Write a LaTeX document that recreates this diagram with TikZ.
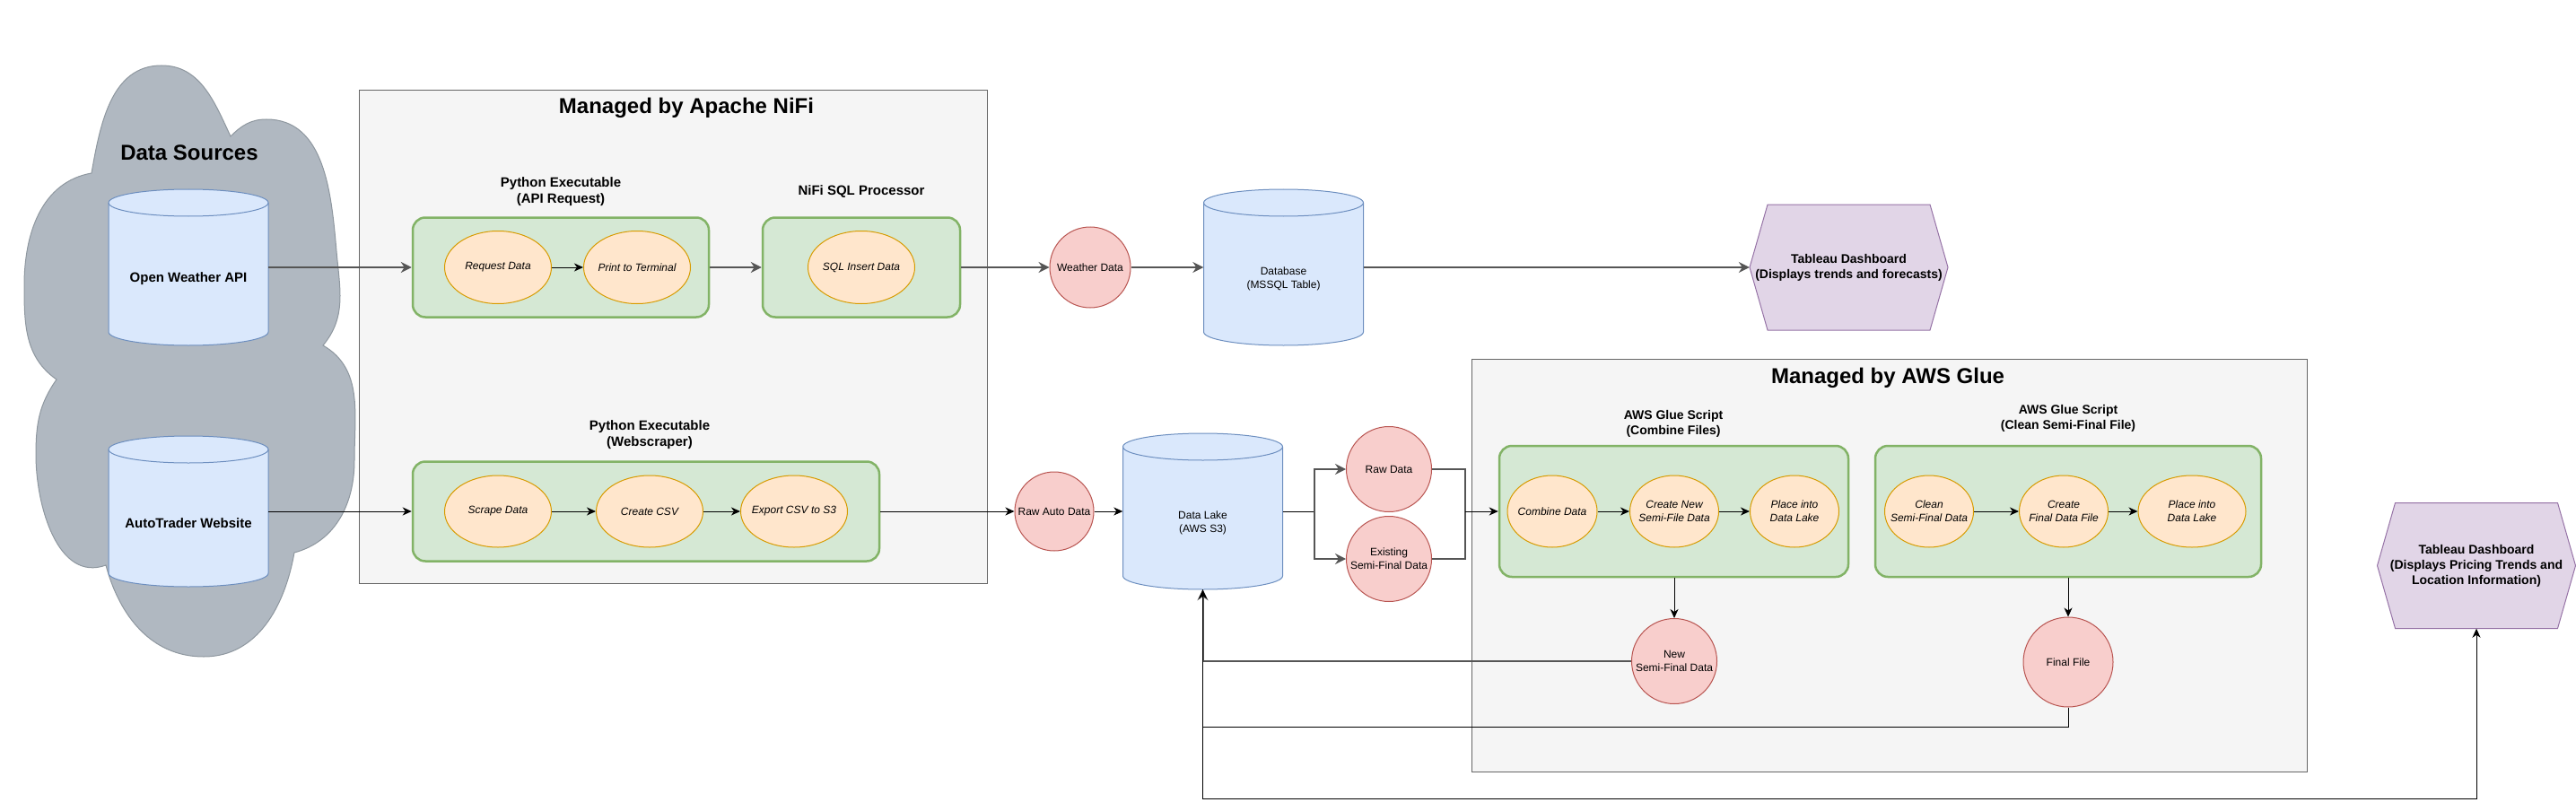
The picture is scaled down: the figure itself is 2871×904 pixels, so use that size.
\documentclass[tikz,border=0pt]{standalone}
\usepackage{fontspec}
\setmainfont{Liberation Sans}
\usetikzlibrary{arrows.meta,shapes.geometric}
\definecolor{cloudfill}{HTML}{B0B8C1}
\definecolor{clouddraw}{HTML}{8E979F}
\definecolor{boxfill}{HTML}{F5F5F5}
\definecolor{boxdraw}{HTML}{666666}
\definecolor{grfill}{HTML}{D5E8D4}
\definecolor{grdraw}{HTML}{82B366}
\definecolor{orfill}{HTML}{FFE6CC}
\definecolor{ordraw}{HTML}{D79B00}
\definecolor{rdfill}{HTML}{F8CECC}
\definecolor{rddraw}{HTML}{B85450}
\definecolor{blfill}{HTML}{DAE8FC}
\definecolor{bldraw}{HTML}{6C8EBF}
\definecolor{pufill}{HTML}{E1D5E7}
\definecolor{pudraw}{HTML}{9673A6}
\definecolor{edgegray}{HTML}{555555}
\tikzset{
  container/.style={draw=boxdraw,fill=boxfill,line width=1pt,inner sep=0pt},
  script/.style={draw=grdraw,fill=grfill,line width=2.5pt,rounded corners=14pt,inner sep=0pt},
  task/.style={ellipse,draw=ordraw,fill=orfill,line width=1pt,inner xsep=-15pt,inner ysep=0pt,
    font=\fontsize{12}{15}\selectfont\itshape,align=center},
  dataobj/.style={circle,draw=rddraw,fill=rdfill,line width=1pt,inner sep=0pt,
    font=\fontsize{12}{15}\selectfont,align=center},
  heading/.style={font=\fontsize{24}{28}\selectfont\bfseries},
  caption/.style={font=\fontsize{15}{18}\selectfont\bfseries,align=center},
  gluecap/.style={font=\fontsize{14}{17}\selectfont\bfseries,align=center},
  cylshape/.style={draw=bldraw,fill=blfill,line width=1pt},
  cylbox/.style={minimum width=178pt,inner sep=0pt},
  srctext/.style={font=\fontsize{15}{18}\selectfont\bfseries,align=center,yshift=-13pt},
  cyltext/.style={font=\fontsize{12}{15}\selectfont,align=center,yshift=-13pt},
  hexshape/.style={draw=pudraw,fill=pufill,line width=1pt},
  hextext/.style={minimum width=221pt,minimum height=140pt,inner sep=0pt,align=center,
    font=\fontsize{14}{17}\selectfont\bfseries},
  flow/.style={-{Stealth[length=10pt,width=9pt,inset=3pt]},line width=1pt},
  gflow/.style={-{Stealth[length=12pt,width=12pt,inset=4pt]},draw=edgegray,line width=2pt}
}
\newcommand{\cylnode}[6]{%
  \filldraw[cylshape] (#2-89,#3+#4/2-15) -- (#2-89,#3-#4/2+15)
    arc[start angle=180,end angle=360,x radius=89pt,y radius=15pt]
    -- (#2+89,#3+#4/2-15) arc[start angle=0,end angle=180,x radius=89pt,y radius=15pt] -- cycle;
  \draw[cylshape,fill=none] (#2-89,#3+#4/2-15) arc[start angle=180,end angle=360,x radius=89pt,y radius=15pt];
  \node[cylbox,minimum height=#4pt,label={[#5]center:{#6}}] (#1) at (#2,#3) {};}
\newcommand{\hexnode}[4]{%
  \filldraw[hexshape] (#2-110.5,#3) -- (#2-90.5,#3+70) -- (#2+90.5,#3+70) -- (#2+110.5,#3)
    -- (#2+90.5,#3-70) -- (#2-90.5,#3-70) -- cycle;
  \node[hextext] (#1) at (#2,#3) {#4};}
\begin{document}
\begin{tikzpicture}[x=1pt,y=1pt]
\useasboundingbox (0,0) rectangle (2871,-904);

\filldraw[fill=cloudfill,draw=clouddraw,line width=1pt]
  (102,-193) to[out=80,in=180] (180,-73) to[out=0,in=115] (257,-152)
  to[out=45,in=180] (297,-133) to[out=0,in=95] (375,-280)
  to[out=-85,in=50] (360,-385) to[out=-30,in=90] (395,-513)
  to[out=-90,in=15] (328,-616) to[out=-100,in=0] (227,-732)
  to[out=180,in=-75] (118,-630) to[out=200,in=-90] (40,-507)
  to[out=90,in=-125] (63,-423) to[out=145,in=-90] (27,-318)
  to[out=90,in=190] (102,-193) -- cycle;
\node[heading] (srctitle) at (211,-170) {Data Sources};

\node[container,minimum width=700pt,minimum height=549pt] (nifi) at (750,-375.5) {};
\node[heading] (nifititle) at (765,-120) {Managed by Apache NiFi};
\node[container,minimum width=931pt,minimum height=460pt] (glue) at (2105.5,-630) {};
\node[heading] (gluetitle) at (2104,-421) {Managed by AWS Glue};

\cylnode{owapi}{210}{-298}{174}{srctext}{Open Weather API}
\cylnode{atweb}{210}{-570}{168}{srctext}{AutoTrader Website}
\cylnode{db}{1430.5}{-298}{174}{cyltext}{Database\\(MSSQL Table)}
\cylnode{lake}{1340.5}{-570}{174}{cyltext}{Data Lake\\(AWS S3)}

\node[script,minimum width=330pt,minimum height=111pt] (apibox) at (625,-298) {};
\node[caption] (apicap) at (625,-214) {Python Executable\\(API Request)};
\node[task,minimum width=119pt,minimum height=81pt] (reqd) at (555,-298) {Request Data};
\node[task,minimum width=119pt,minimum height=81pt] (prnt) at (710,-298) {Print to Terminal};

\node[script,minimum width=220pt,minimum height=111pt] (sqlbox) at (960,-298) {};
\node[caption] (sqlcap) at (960,-214) {NiFi SQL Processor};
\node[task,minimum width=119pt,minimum height=81pt] (sqli) at (960,-298) {SQL Insert Data};

\node[script,minimum width=520pt,minimum height=111pt] (webbox) at (720,-570) {};
\node[caption] (webcap) at (724,-485) {Python Executable\\(Webscraper)};
\node[task,minimum width=119pt,minimum height=80pt] (scrp) at (555,-570) {Scrape Data};
\node[task,minimum width=119pt,minimum height=80pt] (csv) at (724,-570) {Create CSV};
\node[task,minimum width=119pt,minimum height=80pt] (expo) at (885,-570) {Export CSV to S3};

\node[script,minimum width=389pt,minimum height=146pt] (combbox) at (1865.5,-570) {};
\node[gluecap] (combcap) at (1865,-472) {AWS Glue Script\\(Combine Files)};
\node[task,minimum width=100pt,minimum height=80pt] (comb) at (1730,-570) {Combine Data};
\node[task,minimum width=99pt,minimum height=80pt] (crnew) at (1866,-570) {Create New\\Semi-File Data};
\node[task,minimum width=99pt,minimum height=80pt] (place1) at (2000,-570) {Place into\\Data Lake};

\node[script,minimum width=430pt,minimum height=146pt] (cleanbox) at (2305,-570) {};
\node[gluecap] (cleancap) at (2305,-466) {AWS Glue Script\\(Clean Semi-Final File)};
\node[task,minimum width=99pt,minimum height=80pt] (cleand) at (2150,-570) {Clean\\Semi-Final Data};
\node[task,minimum width=99pt,minimum height=80pt] (crfin) at (2300,-570) {Create\\Final Data File};
\node[task,minimum width=120pt,minimum height=80pt] (place2) at (2443,-570) {Place into\\Data Lake};

\node[dataobj,minimum size=90pt] (weather) at (1215,-298) {Weather Data};
\node[dataobj,minimum size=88pt] (rawauto) at (1175,-570) {Raw Auto Data};
\node[dataobj,minimum size=95pt] (rawd) at (1548,-523) {Raw Data};
\node[dataobj,minimum size=95pt] (exist) at (1548,-623) {Existing\\Semi-Final Data};
\node[dataobj,minimum size=95pt] (newsemi) at (1866,-737) {New\\Semi-Final Data};
\node[dataobj,minimum size=100pt] (finalf) at (2305,-738) {Final File};

\hexnode{tab1}{2060.5}{-298}{Tableau Dashboard\\(Displays trends and forecasts)}
\hexnode{tab2}{2760}{-630.5}{Tableau Dashboard\\(Displays Pricing Trends and\\Location Information)}

\coordinate (split) at (1465,-570);
\coordinate (merge) at (1633,-570);

\draw[gflow] (owapi.east) -- (apibox.west);
\draw[flow] (reqd) -- (prnt);
\draw[gflow] (apibox) -- (sqlbox);
\draw[gflow] (sqlbox) -- (weather);
\draw[gflow] (weather) -- (db.west);
\draw[gflow] (db.east) -- (tab1);
\draw[flow] (atweb.east) -- (webbox.west);
\draw[flow] (scrp) -- (csv);
\draw[flow] (csv) -- (expo);
\draw[flow] (webbox) -- (rawauto);
\draw[flow] (rawauto) -- (lake.west);
\draw[line width=1pt] (lake.east) -- (split);
\draw[gflow] (split) |- (rawd.west);
\draw[gflow] (split) |- (exist.west);
\draw[draw=edgegray,line width=2pt] (rawd.east) -| (merge) (exist.east) -| (merge);
\draw[flow] (merge) -- (combbox.west);
\draw[flow] (comb) -- (crnew);
\draw[flow] (crnew) -- (place1);
\draw[flow] (cleand) -- (crfin);
\draw[flow] (crfin) -- (place2);
\draw[flow] (newsemi.north |- combbox.south) -- (newsemi);
\draw[flow] (finalf.north |- cleanbox.south) -- (finalf);
\draw[gflow] (newsemi.west) -| (lake.south);
\draw[flow] (finalf.south) -- ++(0,-22) -| (lake.south);
\draw[flow] (lake.south) -- ++(0,-233) -| (tab2.south);
\end{tikzpicture}
\end{document}
